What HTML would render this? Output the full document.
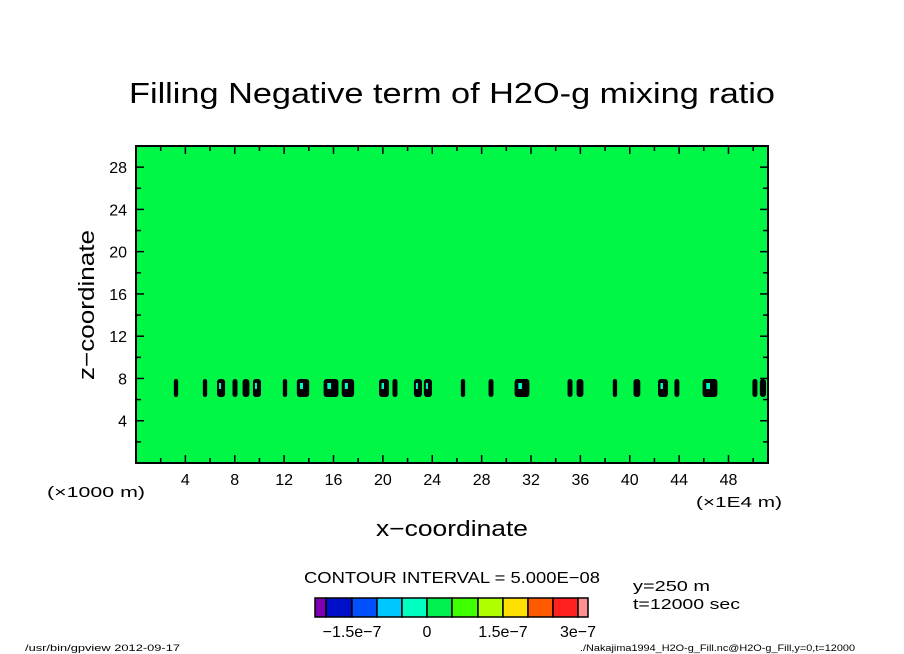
<!DOCTYPE html>
<html><head><meta charset="utf-8"><style>
html,body{margin:0;padding:0;background:#fff;}
svg{display:block;font-family:"Liberation Sans",sans-serif;}
</style></head><body>
<svg id="chart" width="904" height="654" viewBox="0 0 904 654">
  <text x="129" y="103" font-size="29" textLength="646" lengthAdjust="spacingAndGlyphs">Filling Negative term of H2O-g mixing ratio</text>
  <rect x="136" y="146" width="632" height="317" fill="#00f746"/>
  <g id="blobs"></g>
  <g id="axes"></g>
  <rect x="136" y="146" width="632" height="317" fill="none" stroke="#000" stroke-width="2"/>
  <text x="47" y="497" font-size="15" textLength="98" lengthAdjust="spacingAndGlyphs">(×1000 m)</text>
  <text x="696" y="507" font-size="15" textLength="86" lengthAdjust="spacingAndGlyphs">(×1E4 m)</text>
  <text x="376" y="536" font-size="22" textLength="152" lengthAdjust="spacingAndGlyphs">x−coordinate</text>
  <text transform="translate(94,380) rotate(-90)" font-size="22" textLength="150" lengthAdjust="spacingAndGlyphs">z−coordinate</text>
  <text x="304" y="583" font-size="16" textLength="296" lengthAdjust="spacingAndGlyphs">CONTOUR INTERVAL = 5.000E−08</text>
  <text x="633" y="591" font-size="15" textLength="77" lengthAdjust="spacingAndGlyphs">y=250 m</text>
  <text x="633" y="609" font-size="15" textLength="107" lengthAdjust="spacingAndGlyphs">t=12000 sec</text>
  <g id="cbar"></g>
  <text x="25" y="651" font-size="9" textLength="155" lengthAdjust="spacingAndGlyphs">/usr/bin/gpview  2012-09-17</text>
  <text x="580" y="651" font-size="9" textLength="275" lengthAdjust="spacingAndGlyphs">./Nakajima1994_H2O-g_Fill.nc@H2O-g_Fill,y=0,t=12000</text>
</svg>
<script>
const xTicks=[4,8,12,16,20,24,28,32,36,40,44,48];
const yTicks=[4,8,12,16,20,24,28];
const blobX=[3.24,5.59,6.89,8.02,8.91,9.80,12.07,13.53,15.80,17.17,20.09,20.98,22.84,23.65,26.49,28.76,31.27,35.16,35.97,38.80,40.58,42.69,43.82,46.50,50.14,50.79];
const blobW=[0.35,0.35,0.65,0.4,0.55,0.65,0.35,1.0,1.2,1.0,0.8,0.4,0.65,0.65,0.35,0.4,1.2,0.4,0.55,0.35,0.55,0.8,0.4,1.2,0.4,0.5];
const blobZ=[7.1,7.1,7.1,7.1,7.1,7.1,7.1,7.1,7.1,7.1,7.1,7.1,7.1,7.1,7.1,7.1,7.1,7.1,7.1,7.1,7.1,7.1,7.1,7.1,7.1,7.1];
const cbarColors=["#7f00b0","#0010c8","#0050ff","#00c8ff","#00ffc0","#00f050","#40ff00","#b0ff00","#ffe000","#ff5a00","#ff2020","#ff9090"];
const cbarLabels=["−1.5e−7","0","1.5e−7","3e−7"];
const cbarLabelIdx=[2,5,8,11];
const NS="http://www.w3.org/2000/svg";
const X0=136,X1=768,Y0=463,Y1=146,XMAX=51.2,YMAX=30;
const sx=v=>X0+v/XMAX*(X1-X0);
const sy=v=>Y0-v/YMAX*(Y0-Y1);
function mk(tag,attrs,parent){const e=document.createElementNS(NS,tag);for(const k in attrs)e.setAttribute(k,attrs[k]);parent.appendChild(e);return e;}
const ax=document.getElementById('axes');
for(let v=2;v<XMAX;v+=2){const major=v%4===0;
 const t=mk('line',{x1:sx(v),x2:sx(v),y1:Y0,y2:Y0-(major?8:5),stroke:'#000','stroke-width':1.5},ax);
 
 
 const t2=mk('line',{x1:sx(v),x2:sx(v),y1:Y1,y2:Y1+(major?8:5),stroke:'#000','stroke-width':1.5},ax);
 
 }
for(let v=2;v<YMAX;v+=2){const major=v%4===0;
 const t=mk('line',{x1:X0,x2:X0+(major?8:5),y1:sy(v),y2:sy(v),stroke:'#000','stroke-width':1.5},ax);
 
 
 const t2=mk('line',{x1:X1,x2:X1-(major?8:5),y1:sy(v),y2:sy(v),stroke:'#000','stroke-width':1.5},ax);
 
 }
xTicks.forEach(v=>{const t=mk('text',{x:sx(v),y:485,'font-size':16,'text-anchor':'middle'},ax);t.textContent=v;
 
 });
yTicks.forEach(v=>{const t=mk('text',{x:127,y:sy(v)+6,'font-size':16,'text-anchor':'end'},ax);t.textContent=v;
 
 });
const bg=document.getElementById('blobs');
blobX.forEach((v,i)=>{const w=Math.max(sx(blobW[i])-sx(0),3);const cx=sx(v),cy=sy(blobZ[i]);
 const e=mk('rect',{x:cx-w/2,y:cy-9,width:w,height:18,rx:Math.min(w/2,3),fill:'#000'},bg);
 
 
 if(w>7){const c=mk('rect',{x:cx-w/4,y:cy-5,width:w/4,height:6,fill:'#00ffc0'},bg);
  
  }});
const cb=document.getElementById('cbar');
const edges=[315,326,352,377,402,427,452,478,503,528,553,578,588];
cbarColors.forEach((c,i)=>{const r=mk('rect',{x:edges[i],y:598,width:edges[i+1]-edges[i],height:19,fill:c,stroke:'#000','stroke-width':1.5},cb);
 
 });
cbarLabels.forEach((l,i)=>{const t=mk('text',{x:edges[cbarLabelIdx[i]],y:637,'font-size':16,'text-anchor':'middle'},cb);t.textContent=l;
 
 });
</script>
</body></html>
